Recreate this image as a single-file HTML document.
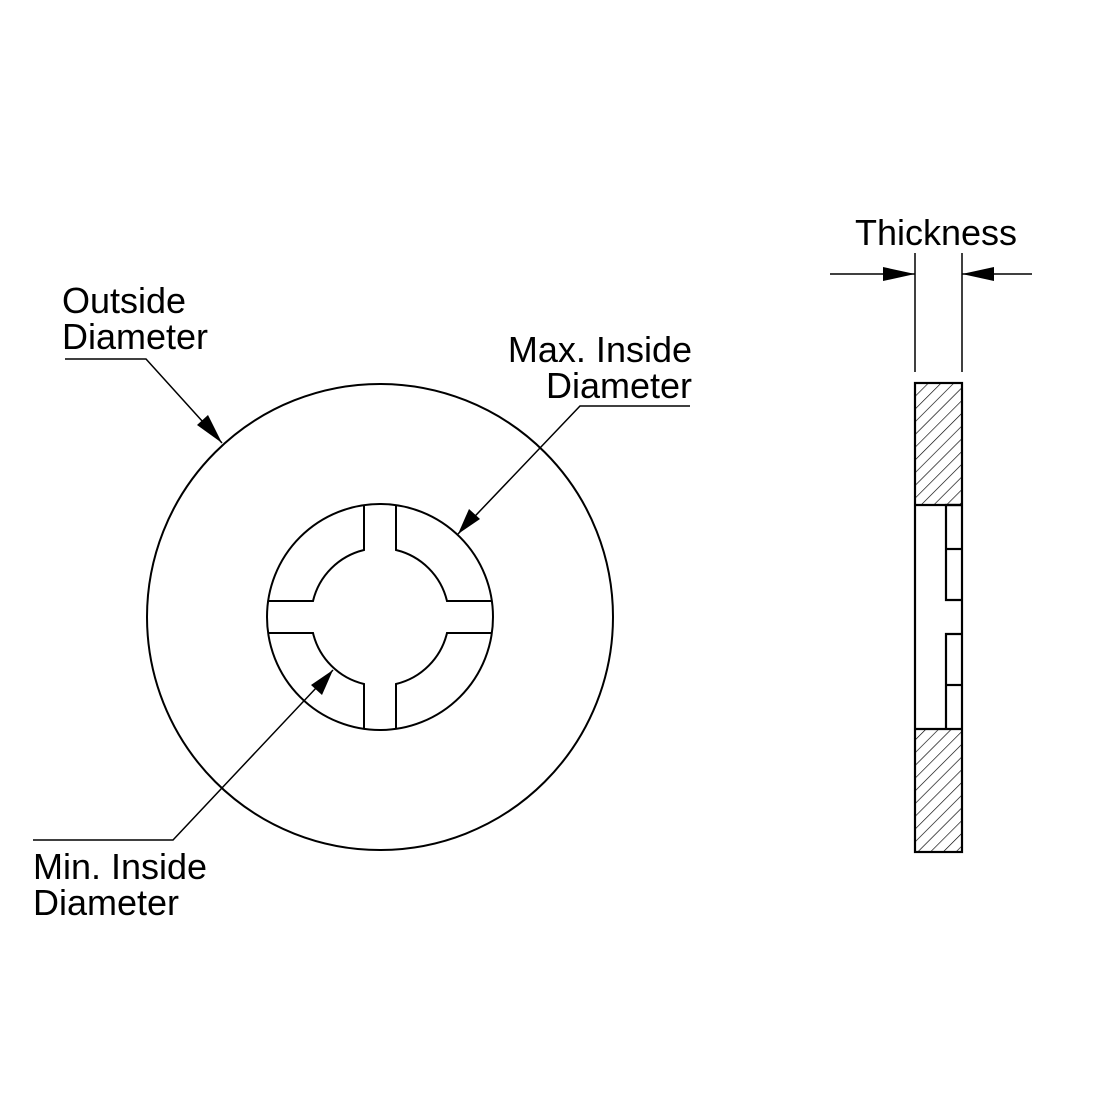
<!DOCTYPE html>
<html><head><style>
html,body{margin:0;padding:0;background:#fff;}
svg{display:block}
text{font-family:"Liberation Sans",Arial,sans-serif;font-size:36px;fill:#000}
</style></head><body>
<svg width="1100" height="1100" viewBox="0 0 1100 1100" xmlns="http://www.w3.org/2000/svg">
<defs>
<pattern id="h" patternUnits="userSpaceOnUse" width="9" height="9" patternTransform="rotate(45)">
<line x1="0" y1="0" x2="0" y2="9" stroke="#000" stroke-width="1.3"/>
</pattern>
</defs>
<g fill="none" stroke="#000" stroke-width="2">
<circle cx="380" cy="617" r="233"/>
<circle cx="380" cy="617" r="113"/>
<g id="q"><path d="M364 505.1 L364 550 A69 69 0 0 0 313 601 L268.1 601"/></g>
<use href="#q" transform="rotate(90 380 617)"/>
<use href="#q" transform="rotate(180 380 617)"/>
<use href="#q" transform="rotate(270 380 617)"/>
</g>
<g stroke="#000" stroke-width="1.5" fill="none">
<polyline points="65,359 146,359 222,443"/>
<polyline points="690,406 580,406 458,534"/>
<polyline points="33,840 173,840 333,670"/>
<line x1="915" y1="253" x2="915" y2="372"/>
<line x1="962" y1="253" x2="962" y2="372"/>
<line x1="830" y1="274" x2="915" y2="274"/>
<line x1="962" y1="274" x2="1032" y2="274"/>
</g>
<g fill="#000">
<polygon points="222,443 197,425 208,415"/>
<polygon points="458,534 469,509 480,519"/>
<polygon points="333,670 322,695 311,685"/>
<polygon points="915,274 883,267 883,281"/>
<polygon points="962,274 994,267 994,281"/>
</g>
<rect x="915" y="383" width="47" height="122" fill="url(#h)"/>
<rect x="915" y="729" width="47" height="123" fill="url(#h)"/>
<g fill="none" stroke="#000" stroke-width="2.2">
<rect x="915" y="383" width="47" height="469"/>
<line x1="915" y1="505" x2="962" y2="505"/>
<line x1="915" y1="729" x2="962" y2="729"/>
<polyline points="962,505 946,505 946,600 962,600"/>
<line x1="946" y1="549" x2="962" y2="549"/>
<polyline points="962,634 946,634 946,729"/>
<line x1="946" y1="685" x2="962" y2="685"/>
</g>
<text x="62" y="313">Outside</text>
<text x="62" y="349">Diameter</text>
<text x="692" y="362" text-anchor="end">Max. Inside</text>
<text x="692" y="398" text-anchor="end">Diameter</text>
<text x="33" y="879">Min. Inside</text>
<text x="33" y="915">Diameter</text>
<text x="936" y="245" text-anchor="middle">Thickness</text>
</svg>
</body></html>
